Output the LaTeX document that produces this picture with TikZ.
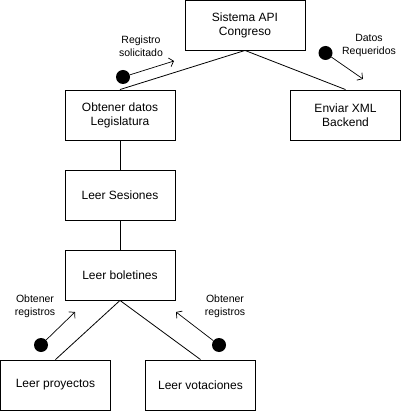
\documentclass[tikz,border=0pt]{standalone}
\usepackage{fontspec}
\setmainfont{Liberation Sans}
\usetikzlibrary{arrows.meta}
\begin{document}
\begin{tikzpicture}[x=1pt,y=-1pt,
  box/.style={draw,line width=0.9pt,minimum width=110pt,minimum height=50pt,inner sep=0pt,align=center,font=\fontsize{12}{14}\selectfont},
  lbl/.style={align=center,font=\fontsize{10.5}{13}\selectfont,inner sep=0pt},
  dotn/.style={circle,fill=black,minimum size=14pt,inner sep=0pt},
  conn/.style={line width=0.8pt},
  flow/.style={line width=0.7pt,-{Straight Barb[length=4pt,width=9pt]}}]
\useasboundingbox (0,0) rectangle (401,411);
\node[box,minimum width=120pt] (api) at (245,25) {Sistema API\\Congreso};
\node[box] (obt) at (120,115) {Obtener datos\\Legislatura};
\node[box] (env) at (345.5,115) {Enviar XML\\Backend};
\node[box] (ses) at (120,195) {Leer Sesiones};
\node[box] (bol) at (120,275) {Leer boletines};
\node[box] (pro) at (55.5,385) {Leer proyectos};
\node[box] (vot) at (200.5,385) {Leer votaciones};
\draw[conn] (api.south) -- (obt.north);
\draw[conn] (api.south) -- (env.north);
\draw[conn] (obt) -- (ses);
\draw[conn] (ses) -- (bol);
\draw[conn] (bol.south) -- (pro.north);
\draw[conn] (bol.south) -- (vot.north);
\node[dotn] (d1) at (123,77) {};
\coordinate (a1) at (174,61);
\draw[flow] (d1) -- (a1);
\node[lbl] (t1) at (141,46) {Registro\\solicitado};
\node[dotn] (d2) at (325.5,53) {};
\coordinate (a2) at (363,79);
\draw[flow] (d2) -- (a2);
\node[lbl] (t2) at (369,45) {Datos\\Requeridos};
\node[dotn] (d3) at (41,345) {};
\coordinate (a3) at (75,312);
\draw[flow] (d3) -- (a3);
\node[lbl] (t3) at (35,306) {Obtener\\registros};
\node[dotn] (d4) at (219,345) {};
\coordinate (a4) at (176,312);
\draw[flow] (d4) -- (a4);
\node[lbl] (t4) at (225,306) {Obtener\\registros};
\end{tikzpicture}
\end{document}
